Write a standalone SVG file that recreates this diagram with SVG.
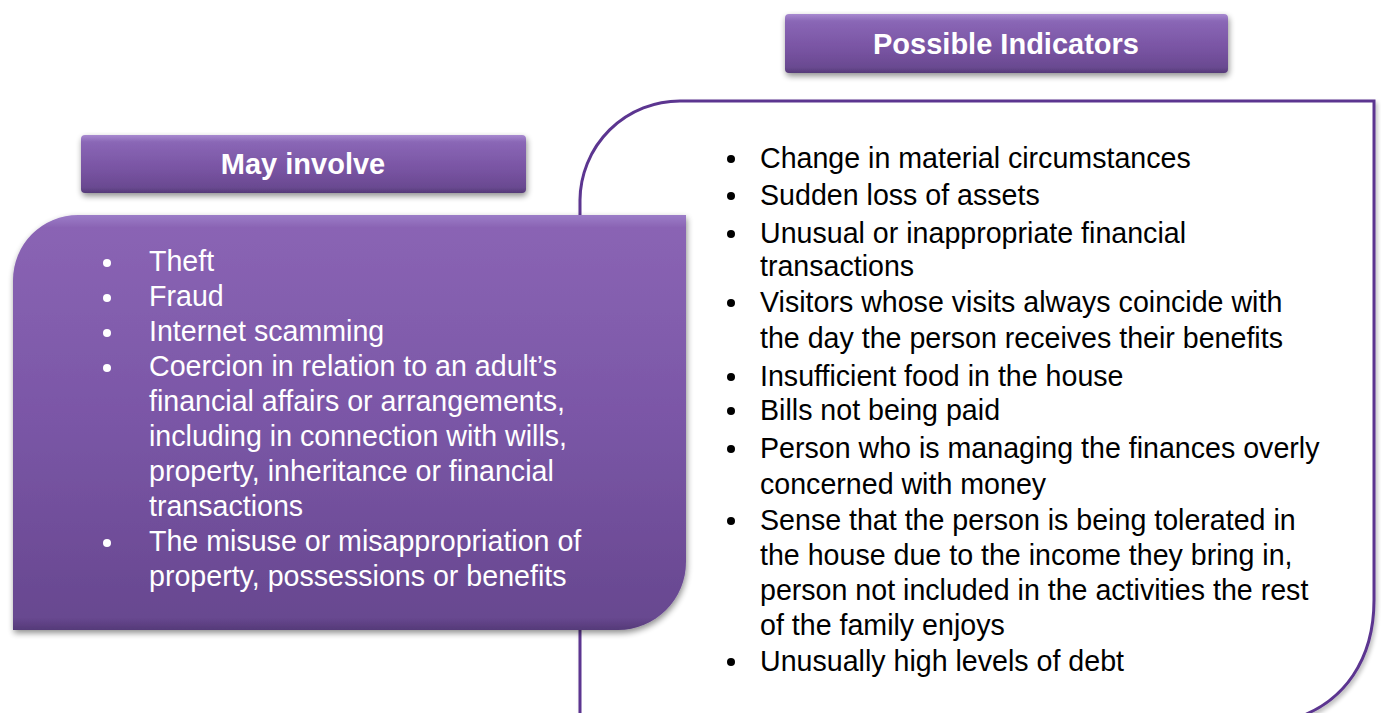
<svg xmlns="http://www.w3.org/2000/svg" width="1381" height="713" viewBox="0 0 1381 713">
  <defs>
    <linearGradient id="hdrGrad" x1="0" y1="0" x2="0" y2="1">
      <stop offset="0" stop-color="#a88ad0"/>
      <stop offset="0.12" stop-color="#8a67b6"/>
      <stop offset="0.6" stop-color="#7853a2"/>
      <stop offset="0.9" stop-color="#6a4a91"/>
      <stop offset="1" stop-color="#553a78"/>
    </linearGradient>
    <linearGradient id="boxGrad" x1="0" y1="0" x2="0" y2="1">
      <stop offset="0" stop-color="#9c7dc8"/>
      <stop offset="0.03" stop-color="#8a64b4"/>
      <stop offset="0.5" stop-color="#7a56a6"/>
      <stop offset="0.97" stop-color="#684890"/>
      <stop offset="1" stop-color="#553a78"/>
    </linearGradient>
    <filter id="shadow" x="-10%" y="-10%" width="120%" height="130%">
      <feGaussianBlur in="SourceAlpha" stdDeviation="3"/>
      <feOffset dx="1" dy="3" result="b"/>
      <feComponentTransfer><feFuncA type="linear" slope="0.45"/></feComponentTransfer>
      <feMerge><feMergeNode/><feMergeNode in="SourceGraphic"/></feMerge>
    </filter>
    <filter id="lineShadow" x="-5%" y="-5%" width="110%" height="110%">
      <feGaussianBlur in="SourceAlpha" stdDeviation="2"/>
      <feOffset dx="2" dy="3" result="b"/>
      <feComponentTransfer><feFuncA type="linear" slope="0.25"/></feComponentTransfer>
      <feMerge><feMergeNode/><feMergeNode in="SourceGraphic"/></feMerge>
    </filter>
  </defs>
  <style>
    .hdr { font-family: "Liberation Sans", Arial, sans-serif; font-weight: bold; font-size: 29px; fill: #ffffff; text-anchor: middle; }
    .lt { font-family: "Liberation Sans", Arial, sans-serif; font-size: 28.6px; fill: #ffffff; }
    .rt { font-family: "Liberation Sans", Arial, sans-serif; font-size: 28.6px; fill: #000000; }
    .wb { fill: #ffffff; }
    .bb { fill: #000000; }
    .outline { fill: #ffffff; stroke: #5b3590; stroke-width: 3; }
  </style>

  <g id="indicators-box">
    <path class="outline" filter="url(#lineShadow)" d="M580 713 L580 200 A100 100 0 0 1 680 101 L1374 101 L1374 600 C1374 660 1344 702 1296 718 L580 718 Z"/>
    <g>
      <circle class="bb" cx="731" cy="159" r="4"/>
      <text class="rt" x="760" y="168">Change in material circumstances</text>
      <circle class="bb" cx="731" cy="196" r="4"/>
      <text class="rt" x="760" y="205">Sudden loss of assets</text>
      <circle class="bb" cx="731" cy="234" r="4"/>
      <text class="rt" x="760" y="243">Unusual or inappropriate financial</text>
      <text class="rt" x="760" y="276">transactions</text>
      <circle class="bb" cx="731" cy="303" r="4"/>
      <text class="rt" x="760" y="312">Visitors whose visits always coincide with</text>
      <text class="rt" x="760" y="348">the day the person receives their benefits</text>
      <circle class="bb" cx="731" cy="377" r="4"/>
      <text class="rt" x="760" y="386">Insufficient food in the house</text>
      <circle class="bb" cx="731" cy="411" r="4"/>
      <text class="rt" x="760" y="420">Bills not being paid</text>
      <circle class="bb" cx="731" cy="449" r="4"/>
      <text class="rt" x="760" y="458">Person who is managing the finances overly</text>
      <text class="rt" x="760" y="494">concerned with money</text>
      <circle class="bb" cx="731" cy="521" r="4"/>
      <text class="rt" x="760" y="530">Sense that the person is being tolerated in</text>
      <text class="rt" x="760" y="565">the house due to the income they bring in,</text>
      <text class="rt" x="760" y="600">person not included in the activities the rest</text>
      <text class="rt" x="760" y="635">of the family enjoys</text>
      <circle class="bb" cx="731" cy="662" r="4"/>
      <text class="rt" x="760" y="671">Unusually high levels of debt</text>
    </g>
  </g>

  <g id="indicators-header">
    <rect x="785" y="14" width="443" height="59" rx="4" fill="url(#hdrGrad)" filter="url(#shadow)"/>
    <text class="hdr" x="1006" y="54">Possible Indicators</text>
  </g>

  <g id="involve-header">
    <rect x="81" y="135" width="445" height="58" rx="4" fill="url(#hdrGrad)" filter="url(#shadow)"/>
    <text class="hdr" x="303" y="174">May involve</text>
  </g>

  <g id="involve-box">
    <path fill="url(#boxGrad)" filter="url(#shadow)" d="M13 630 L13 280 A65 65 0 0 1 78 215 L686 215 L686 562 A68 68 0 0 1 618 630 Z"/>
    <g>
      <circle class="wb" cx="107" cy="263" r="4"/>
      <text class="lt" x="149" y="271">Theft</text>
      <circle class="wb" cx="107" cy="298" r="4"/>
      <text class="lt" x="149" y="306">Fraud</text>
      <circle class="wb" cx="107" cy="333" r="4"/>
      <text class="lt" x="149" y="341">Internet scamming</text>
      <circle class="wb" cx="107" cy="368" r="4"/>
      <text class="lt" x="149" y="376">Coercion in relation to an adult’s</text>
      <text class="lt" x="149" y="411">financial affairs or arrangements,</text>
      <text class="lt" x="149" y="446">including in connection with wills,</text>
      <text class="lt" x="149" y="481">property, inheritance or financial</text>
      <text class="lt" x="149" y="516">transactions</text>
      <circle class="wb" cx="107" cy="543" r="4"/>
      <text class="lt" x="149" y="551">The misuse or misappropriation of</text>
      <text class="lt" x="149" y="586">property, possessions or benefits</text>
    </g>
  </g>
</svg>
